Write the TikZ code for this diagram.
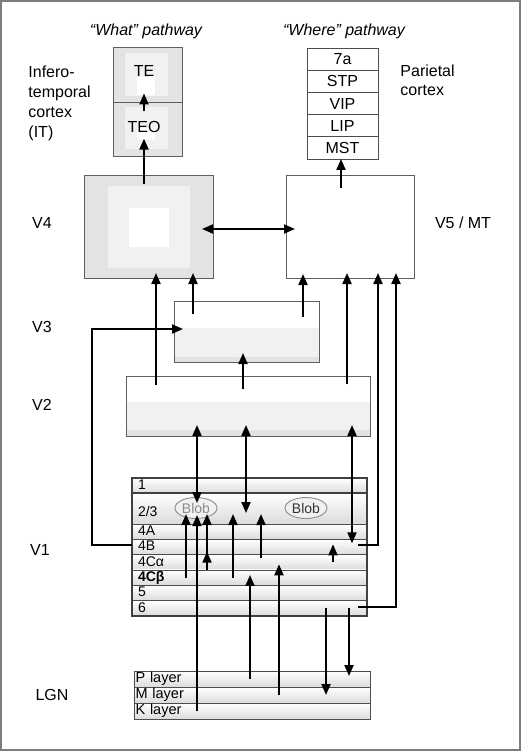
\documentclass[tikz,border=0pt]{standalone}
\usepackage{fontspec}
\setmainfont{Liberation Sans}
\usetikzlibrary{positioning, arrows.meta, shapes.geometric}

\definecolor{framegray}{RGB}{125,125,125}
\definecolor{edgegray}{RGB}{95,95,95}
\definecolor{areagray}{RGB}{227,227,227}
\definecolor{palegray}{RGB}{241,241,241}
\definecolor{stripgray}{RGB}{226,226,226}

\tikzset{
	area/.style={draw=edgegray, line width=0.9pt, rectangle, inner sep=0pt, outer sep=0pt},
	layer/.style={area, draw=black!70, top color=white, bottom color=black!14, align=left, text height=10pt, text depth=2.5pt, font=\fontsize{14}{14}\selectfont},
	cortexrow/.style={layer, text width=223pt, inner xsep=6pt, minimum height=15.33pt},
	lgnrow/.style={layer, text width=233pt, inner xsep=1.5pt, minimum height=16pt, font=\fontsize{14.5}{14.5}\selectfont},
	stackbox/.style={area, draw=black!70, fill=white, minimum width=71pt, minimum height=22.2pt},
	blob/.style={ellipse, draw=black!45, fill=black!6, minimum width=42pt, minimum height=21pt, inner sep=0pt, font=\fontsize{14}{14}\selectfont},
	lbl/.style={inner sep=0pt},
	head/.style={inner sep=0pt, font=\fontsize{16}{19}\selectfont\itshape},
	arr/.style={line width=2pt, -{Triangle[length=11pt, width=9pt]}},
	dblarr/.style={line width=2pt, {Triangle[length=11pt, width=9pt]}-{Triangle[length=11pt, width=9pt]}},
}

\begin{document}
\begin{tikzpicture}[x=1pt, y=-1pt, font=\fontsize{16}{19}\selectfont, line width=0.9pt]
	\useasboundingbox (0,0) rectangle (521,751);
	\draw[framegray, line width=1.6pt] (1,1) rectangle (520,750);

	% pathway headings
	\node[head] (what) at (146,31) {“What” pathway};
	\node[head] (where) at (344,31) {“Where” pathway};

	% inferotemporal cortex
	\node[area, fill=areagray, minimum width=69pt, minimum height=55pt, anchor=north west] (te) at (113,47) {};
	\node[area, fill=areagray, minimum width=69pt, minimum height=54pt, below=0pt of te] (teo) {};
	\fill[palegray] (125,53) rectangle (168,96);
	\fill[palegray] (125,107) rectangle (168,149);
	\fill[white] (137,77) rectangle (155,95);
	\fill[white] (137,128) rectangle (155,140);
	\node[lbl] (tetxt) at (144,70.5) {TE};
	\node[lbl] (teotxt) at (144,126.5) {TEO};
	\node[lbl, align=left, anchor=west, font=\fontsize{16}{20}\selectfont] (itlbl) at (28,103) {Infero-\\temporal\\cortex\\(IT)};

	% parietal cortex
	\node[stackbox, anchor=north west] (sevena) at (307,48) {7a};
	\node[stackbox, below=0pt of sevena] (stp) {STP};
	\node[stackbox, below=0pt of stp] (vip) {VIP};
	\node[stackbox, below=0pt of vip] (lip) {LIP};
	\node[stackbox, below=0pt of lip] (mst) {MST};
	\node[lbl, align=left, anchor=west] (parlbl) at (400,80.5) {Parietal\\cortex};

	% V4 and V5
	\node[area, fill=areagray, minimum width=129pt, minimum height=103pt, anchor=north west] (v4) at (84,175) {};
	\fill[palegray] (108,186) rectangle (190,268);
	\fill[white] (129,208) rectangle (169,247);
	\node[area, fill=white, minimum width=128pt, minimum height=103pt, anchor=north west] (v5) at (286,175) {};
	\node[lbl] (v4lbl) at (42,223) {V4};
	\node[lbl] (v5lbl) at (463,223) {V5 / MT};

	% V3 and V2
	\fill[palegray] (174,328) rectangle (319,362);
	\fill[stripgray] (174,357) rectangle (319,362);
	\node[area, minimum width=145pt, minimum height=61pt, anchor=north west] (v3) at (174,301) {};
	\fill[palegray] (126,402) rectangle (370,436);
	\fill[stripgray] (126,430) rectangle (370,436);
	\node[area, minimum width=244pt, minimum height=60pt, anchor=north west] (v2) at (126,376) {};
	\node[lbl] (v3lbl) at (42,327) {V3};
	\node[lbl] (v2lbl) at (42,405) {V2};

	% V1 layers
	\node[cortexrow, minimum height=15.3pt, anchor=north west] (l1) at (132,478) {1};
	\node[cortexrow, minimum height=30.7pt, below=0pt of l1] (l23) {\raisebox{-4pt}{2/3}};
	\node[cortexrow, below=0pt of l23] (l4a) {4A};
	\node[cortexrow, below=0pt of l4a] (l4b) {4B};
	\node[cortexrow, below=0pt of l4b] (l4ca) {4Cα};
	\node[cortexrow, below=0pt of l4ca] (l4cb) {\textbf{4Cβ}};
	\node[cortexrow, below=0pt of l4cb] (l5) {5};
	\node[cortexrow, below=0pt of l5] (l6) {6};
	\draw[black!75, line width=1.8pt] (l1.south west) -- (l1.south east);
	\draw[black!75, line width=1.3pt] (l1.north west) rectangle (l6.south east);
	\node[blob, text=black!45] (bloba) at (196,508) {Blob};
	\node[blob, text=black!80] (blobb) at (306,508) {Blob};
	\node[lbl] (v1lbl) at (40,550) {V1};

	% LGN layers
	\node[lgnrow, anchor=north west] (lp) at (134,671) {P layer};
	\node[lgnrow, below=0pt of lp] (lm) {M layer};
	\node[lgnrow, below=0pt of lm] (lk) {K layer};
	\node[lbl] (lgnlbl) at (52,695) {LGN};

	% higher areas
	\draw[arr, shorten <=9pt, shorten >=17pt] (teotxt.north) -- (tetxt.south);
	\draw[arr, shorten <=-9pt, shorten >=6pt] (144,0 |- v4.north) -- (teotxt.south);
	\draw[arr, shorten <=-13pt] (341,0 |- v5.north) -- (341,0 |- mst.south);
	\draw[dblarr, shorten <=-11pt, shorten >=-9pt] ([yshift=-2.5pt]v4.east) -- ([yshift=-2.5pt]v5.west);
	\draw[arr, shorten <=-9pt, shorten >=-5pt] (156,0 |- v2.north) -- (156,0 |- v4.south);
	\draw[arr, shorten <=-13pt, shorten >=-5pt] (193,0 |- v3.north) -- (193,0 |- v4.south);
	\draw[arr, shorten <=-13pt, shorten >=-9pt] (243,0 |- v2.north) -- (243,0 |- v3.south);
	\draw[arr, shorten <=-16pt, shorten >=-4pt] (303,0 |- v3.north) -- (303,0 |- v5.south);
	\draw[arr, shorten <=-8pt, shorten >=-5pt] (347,0 |- v2.north) -- (347,0 |- v5.south);

	% V1 to V2
	\draw[dblarr, shorten <=5pt, shorten >=-11pt] (197,0 |- bloba.center) -- (197,0 |- v2.south);
	\draw[dblarr, shorten <=11pt, shorten >=-11pt] (246,0 |- l23.south) -- (246,0 |- v2.south);
	\draw[dblarr, shorten <=-4pt, shorten >=-11pt] (352,0 |- l4b.north) -- (352,0 |- v2.south);

	% inside V1
	\draw[arr, shorten >=-9pt] (197,0 |- lk.center) -- (197,0 |- l23.south);
	\draw[arr, shorten >=-10pt] (186,0 |- l4cb.center) -- (186,0 |- l23.south);
	\draw[arr, shorten >=-3pt] (207,0 |- l4ca.south) -- (207,0 |- l4b.south);
	\draw[arr, shorten >=-10pt] (207,0 |- l4b.south) -- (207,0 |- l23.south);
	\draw[arr, shorten >=-10pt] (233,0 |- l4cb.center) -- (233,0 |- l23.south);
	\draw[arr, shorten <=-3pt, shorten >=-10pt] (261,0 |- l4ca.north) -- (261,0 |- l23.south);
	\draw[arr, shorten >=5pt] (250,0 |- lp.center) -- (250,0 |- l4cb.north);
	\draw[arr, shorten >=2pt] (279,0 |- lm.center) -- (279,0 |- l4ca.center);
	\draw[arr, shorten >=5pt] (333,0 |- l4ca.center) -- (333,0 |- l4b.north);

	% V1 outputs
	\draw[arr, shorten >=-5pt] ([xshift=-9pt, yshift=2pt]l4b.east) -| (378,0 |- v5.south);
	\draw[arr, shorten >=-5pt] ([xshift=-9pt, yshift=1pt]l6.east) -| (396,0 |- v5.south);
	\draw[arr] (326,0 |- l6.center) -- (326,0 |- lm.center);
	\draw[arr, shorten >=3pt] (349,0 |- l6.center) -- (349,0 |- lp.center);
	\draw[arr, shorten >=-9pt] ([yshift=2pt]l4b.west) -- ++(-40,0) |- ([yshift=2.5pt]v3.west);
\end{tikzpicture}
\end{document}
